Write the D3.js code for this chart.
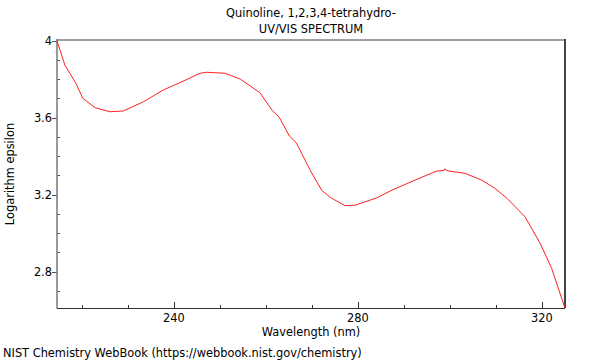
<!DOCTYPE html>
<html><head><meta charset="utf-8">
<script src="https://cdn.jsdelivr.net/npm/d3@7"></script>
<style>body{margin:0;background:#fff}svg{display:block}text{font-family:"DejaVu Sans",sans-serif;fill:#000}</style>
</head><body><svg id="c" width="600" height="360"></svg>
<script>
const titleLines = ["Quinoline, 1,2,3,4-tetrahydro-", "UV/VIS SPECTRUM"];
const xLabel = "Wavelength (nm)";
const yLabel = "Logarithm epsilon";
const footer = "NIST Chemistry WebBook (https://webbook.nist.gov/chemistry)";
const wavelength = [214.6,216.3,218.7,220.2,222.9,226.1,229.0,233.4,237.7,241.3,245.7,247.1,251.1,254.4,258.7,261.3,262.9,265.1,266.6,269.6,272.1,274.0,277.2,279.4,284.1,287.4,292.4,297.1,298.7,298.9,299.3,303.3,306.9,309.8,312.4,316.3,319.6,322.1,325.0];
const logEps =     [3.999,3.873,3.778,3.700,3.651,3.630,3.634,3.682,3.743,3.781,3.830,3.835,3.830,3.800,3.729,3.639,3.601,3.504,3.469,3.327,3.223,3.185,3.142,3.145,3.183,3.223,3.275,3.322,3.325,3.334,3.324,3.310,3.275,3.232,3.180,3.085,2.947,2.817,2.610];
const xTicks = [240, 280, 320];
const yTicks = [2.8, 3.2, 3.6, 4];

const FS = 11.4;
const svg = d3.select("#c");
const L = 57, R = 565, T = 40.5, B = 308;
const x = d3.scaleLinear().domain([214.6, 325.0]).range([L, R]);
const y = d3.scaleLinear().domain([2.611, 4]).range([B, T]);

// minor ticks
const xMinor = d3.range(220, 325, 10);
const yMinor = d3.range(2.7, 4.0001, 0.1);
svg.append("g").selectAll("line").data(xMinor).join("line")
  .attr("x1", d => Math.round(x(d)) + 0.5).attr("x2", d => Math.round(x(d)) + 0.5)
  .attr("y1", B).attr("y2", d => xTicks.includes(Math.round(d)) ? B - 6 : B - 3)
  .attr("stroke", "#333");
svg.append("g").selectAll("line").data(yMinor).join("line")
  .attr("y1", d => Math.round(y(d)) + 0.5).attr("y2", d => Math.round(y(d)) + 0.5)
  .attr("x1", L).attr("x2", d => yTicks.some(t => Math.abs(t - d) < 1e-6) ? L - 5 : L + 3)
  .attr("stroke", "#555");

// frame
svg.append("line").attr("x1", L).attr("x2", R).attr("y1", 40).attr("y2", 40).attr("stroke", "#a0a0a0").attr("stroke-width", 2);
svg.append("line").attr("x1", R).attr("x2", R).attr("y1", 39).attr("y2", B).attr("stroke", "#444").attr("stroke-width", 2);
svg.append("line").attr("x1", L).attr("x2", L).attr("y1", 39).attr("y2", B + 0.5).attr("stroke", "#777").attr("stroke-width", 1.5);
svg.append("line").attr("x1", L).attr("x2", R).attr("y1", B + 0.5).attr("y2", B + 0.5).attr("stroke", "#333").attr("stroke-width", 1.2);

// tick labels
svg.append("g").selectAll("text").data(xTicks).join("text")
  .attr("x", d => x(d)).attr("y", 322).attr("text-anchor", "middle").attr("font-size", FS).text(d => d);
svg.append("g").selectAll("text").data(yTicks).join("text")
  .attr("x", 52).attr("y", d => y(d) + 4.3).attr("text-anchor", "end").attr("font-size", FS).text(d => d);

// line
const line = d3.line().x((d, i) => x(wavelength[i])).y(d => y(d));
svg.append("path").datum(logEps).attr("d", line).attr("fill", "none").attr("stroke", "#ff2020").attr("stroke-width", 1);

// titles
svg.append("g").selectAll("text").data(titleLines).join("text")
  .attr("x", 311).attr("y", (d, i) => 17 + i * 16).attr("text-anchor", "middle").attr("font-size", FS).text(d => d);
svg.append("text").attr("x", 311).attr("y", 336).attr("text-anchor", "middle").attr("font-size", FS).text(xLabel);
svg.append("text").attr("transform", "translate(14,174) rotate(-90)").attr("text-anchor", "middle").attr("font-size", FS).text(yLabel);
svg.append("text").attr("x", 3).attr("y", 357).attr("font-size", FS).text(footer);
</script></body></html>
